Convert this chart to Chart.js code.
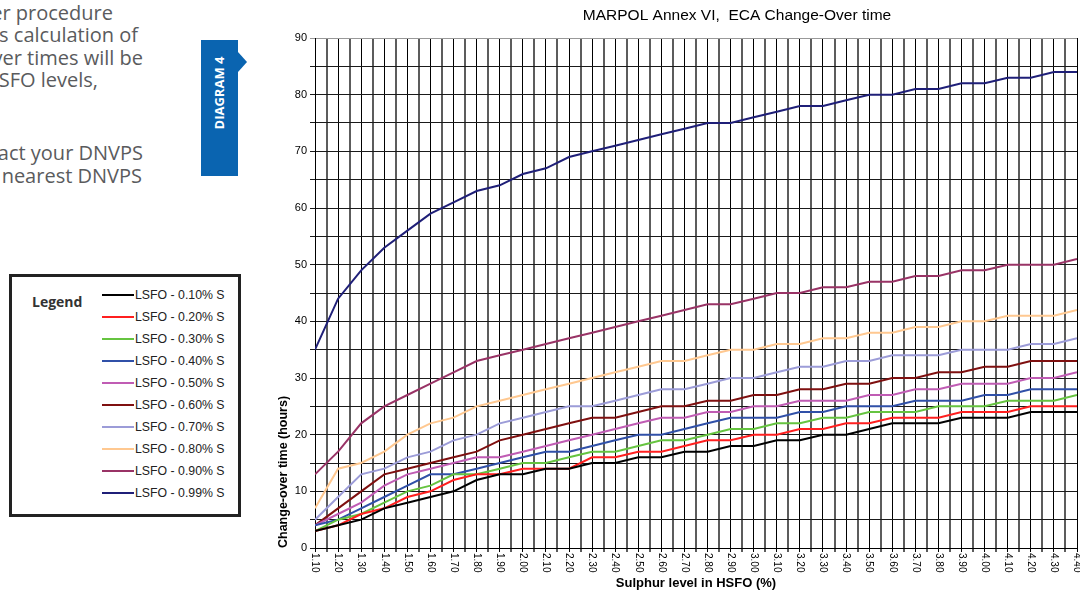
<!DOCTYPE html>
<html><head><meta charset="utf-8">
<script src="https://cdn.jsdelivr.net/npm/chart.js@4"></script>
<style>
html,body{margin:0;padding:0;background:#fff;}
body{width:1080px;height:591px;position:relative;overflow:hidden;font-family:"Liberation Sans",Arial,sans-serif;}
.txt{position:absolute;font-family:"Open Sans","Noto Sans",sans-serif;font-size:20px;color:#5a5b5d;white-space:nowrap;line-height:22px;text-align:right;}
#tab{position:absolute;left:201px;top:40px;width:37px;height:136px;background:#0a64b0;}
#tab:after{content:"";position:absolute;left:37px;top:12px;width:0;height:0;border-left:9px solid #0a64b0;border-top:10px solid transparent;border-bottom:10px solid transparent;}
#tabtxt{position:absolute;left:219px;top:93px;transform:translate(-50%,-50%) rotate(-90deg);color:#fff;font-family:"Open Sans","Noto Sans",sans-serif;font-weight:700;font-size:13px;white-space:nowrap;}
#legend{position:absolute;left:9px;top:274px;width:226px;height:237px;border:3px solid #222;}
#legtitle{position:absolute;left:32px;top:292px;font-family:"Open Sans","Noto Sans",sans-serif;font-weight:700;font-size:14px;color:#333;line-height:20px;}
.lrow{position:absolute;left:102px;height:16px;font-family:"Liberation Sans",Arial,sans-serif;font-size:12.3px;color:#222;white-space:nowrap;}
.lrow i{position:absolute;left:0;top:7px;width:32px;height:2px;}
.lrow span{position:absolute;left:33px;top:0;line-height:16px;}
#c{position:absolute;left:0;top:0;}
</style>
</head><body>
<div class="txt" style="right:967px;top:2px">er procedure</div>
<div class="txt" style="right:942px;top:24px">s calculation of</div>
<div class="txt" style="right:937px;top:47px">ver times will be</div>
<div class="txt" style="right:982px;top:69px">SFO levels,</div>
<div class="txt" style="right:937px;top:142px">act your DNVPS</div>
<div class="txt" style="right:938px;top:165px">nearest DNVPS</div>
<div id="tab"></div>
<div id="tabtxt">DIAGRAM 4</div>
<div id="legend"></div>
<div id="legtitle">Legend</div>
<div id="legrows"></div>
<canvas id="c" width="1080" height="591"></canvas>
<script>
const chartTitle = 'MARPOL Annex VI,  ECA Change-Over time';
const xValues = [1.10,1.20,1.30,1.40,1.50,1.60,1.70,1.80,1.90,2.00,2.10,2.20,2.30,2.40,2.50,2.60,2.70,2.80,2.90,3.00,3.10,3.20,3.30,3.40,3.50,3.60,3.70,3.80,3.90,4.00,4.10,4.20,4.30,4.40];
const xLabels = ['1.10','1.20','1.30','1.40','1.50','1.60','1.70','1.80','1.90','2.00','2.10','2.20','2.30','2.40','2.50','2.60','2.70','2.80','2.90','3.00','3.10','3.20','3.30','3.40','3.50','3.60','3.70','3.80','3.90','4.00','4.10','4.20','4.30','4.40'];
const yTicks = [0,5,10,15,20,25,30,35,40,45,50,55,60,65,70,75,80,85,90];
const seriesNames = ['LSFO - 0.10% S','LSFO - 0.20% S','LSFO - 0.30% S','LSFO - 0.40% S','LSFO - 0.50% S','LSFO - 0.60% S','LSFO - 0.70% S','LSFO - 0.80% S','LSFO - 0.90% S','LSFO - 0.99% S'];
const seriesColors = ['#000000','#ff1f1f','#66c440','#3050a8','#c05cb4','#7f1010','#9c9cd8','#ffc890','#993366','#1f1f78'];
const s010 = [3,4,5,7,8,9,10,12,13,13,14,14,15,15,16,16,17,17,18,18,19,19,20,20,21,22,22,22,23,23,23,24,24,24];
const s020 = [3,4,6,7,9,10,12,13,13,14,14,14,16,16,17,17,18,19,19,20,20,21,21,22,22,23,23,23,24,24,24,25,25,25];
const s030 = [3,5,6,8,10,11,13,13,14,15,15,16,17,17,18,19,19,20,21,21,22,22,23,23,24,24,24,25,25,25,26,26,26,27];
const s040 = [4,5,7,9,11,13,13,14,15,16,17,17,18,19,20,20,21,22,23,23,23,24,24,25,25,25,26,26,26,27,27,28,28,28];
const s050 = [4,6,8,11,13,14,15,16,16,17,18,19,20,21,22,23,23,24,24,25,25,26,26,26,27,27,28,28,29,29,29,30,30,31];
const s060 = [4,7,10,13,14,15,16,17,19,20,21,22,23,23,24,25,25,26,26,27,27,28,28,29,29,30,30,31,31,32,32,33,33,33];
const s070 = [5,9,13,14,16,17,19,20,22,23,24,25,25,26,27,28,28,29,30,30,31,32,32,33,33,34,34,34,35,35,35,36,36,37];
const s080 = [7,14,15,17,20,22,23,25,26,27,28,29,30,31,32,33,33,34,35,35,36,36,37,37,38,38,39,39,40,40,41,41,41,42];
const s090 = [13,17,22,25,27,29,31,33,34,35,36,37,38,39,40,41,42,43,43,44,45,45,46,46,47,47,48,48,49,49,50,50,50,51];
const s099 = [35,44,49,53,56,59,61,63,64,66,67,69,70,71,72,73,74,75,75,76,77,78,78,79,80,80,81,81,82,82,83,83,84,84];
const seriesValues = [s010,s020,s030,s040,s050,s060,s070,s080,s090,s099];

// legend (HTML)
const lr = document.getElementById('legrows');
seriesNames.forEach((n,i)=>{
  const d=document.createElement('div'); d.className='lrow'; d.style.top=(287+22*i)+'px';
  d.innerHTML='<i style="background:'+seriesColors[i]+'"></i><span>'+n+'</span>';
  lr.appendChild(d);
});

// grid positions at every half step of the category spacing
const xGrid = [];
xValues.forEach((v,i)=>{ xGrid.push(v); if(i<xValues.length-1) xGrid.push((v+xValues[i+1])/2); });

const xLabelPlugin = {
  id:'xlabels',
  afterDraw(chart){
    const ctx=chart.ctx, xs=chart.scales.x, top=chart.chartArea.bottom+5;
    ctx.save();
    ctx.fillStyle='#000';
    ctx.font='10px "Liberation Sans", Arial, sans-serif';
    ctx.textAlign='left'; ctx.textBaseline='middle';
    xLabels.forEach((lab,i)=>{
      const x=xs.getPixelForValue(xValues[i]);
      ctx.save(); ctx.translate(x, top); ctx.rotate(Math.PI/2); ctx.fillText(lab,0,0); ctx.restore();
    });
    ctx.font='15.5px "Liberation Sans", Arial, sans-serif';
    ctx.textAlign='center';
    ctx.fillText(chartTitle, 737, 16);
    ctx.restore();
  }
};

new Chart(document.getElementById('c'), {
  type:'line',
  data:{
    datasets: seriesValues.map((arr,i)=>({
      label: seriesNames[i],
      data: xValues.map((x,j)=>({x:x, y:arr[j]})),
      borderColor: seriesColors[i],
      backgroundColor: seriesColors[i],
      borderWidth: 2,
      pointRadius: 0,
      tension: 0,
      fill: false
    }))
  },
  options:{
    responsive:false,
    animation:false,
    devicePixelRatio:1,
    layout:{padding:{left:272,right:3,top:38,bottom:0}},
    plugins:{legend:{display:false},tooltip:{enabled:false},title:{display:false}},
    scales:{
      x:{
        type:'linear', min:xValues[0], max:xValues[xValues.length-1],
        afterBuildTicks:(s)=>{ s.ticks = xGrid.map(v=>({value:v})); },
        afterFit:(s)=>{ s.height = 43; },
        ticks:{display:false},
        grid:{
          color:(c)=> (c.index%2===0 ? '#000' : '#5c5c5c'),
          lineWidth:(c)=> (c.index%2===0 ? 1 : 2),
          tickLength:4
        },
        border:{color:'#000'},
        title:{display:true,text:'Sulphur level in HSFO (%)',color:'#000',font:{family:'"Liberation Sans", Arial, sans-serif',size:13,weight:'bold'},padding:{top:0,bottom:0}}
      },
      y:{
        min:0, max:90,
        afterBuildTicks:(s)=>{ s.ticks = yTicks.map(v=>({value:v})); },
        afterFit:(s)=>{ s.width = 43; },
        ticks:{callback:(v)=> (v%10===0 ? String(v) : ''), color:'#000', font:{family:'"Liberation Sans", Arial, sans-serif',size:11}, padding:3},
        grid:{
          color:(c)=> (c.tick && c.tick.value===90 ? '#999' : '#1a1a1a'),
          lineWidth:1,
          tickLength:5
        },
        border:{color:'#000'},
        title:{display:true,text:'Change-over time (hours)',align:'start',color:'#000',font:{family:'"Liberation Sans", Arial, sans-serif',size:12.5,weight:'bold'},padding:{top:4,bottom:0}}
      }
    }
  },
  plugins:[xLabelPlugin]
});
</script>
</body></html>
